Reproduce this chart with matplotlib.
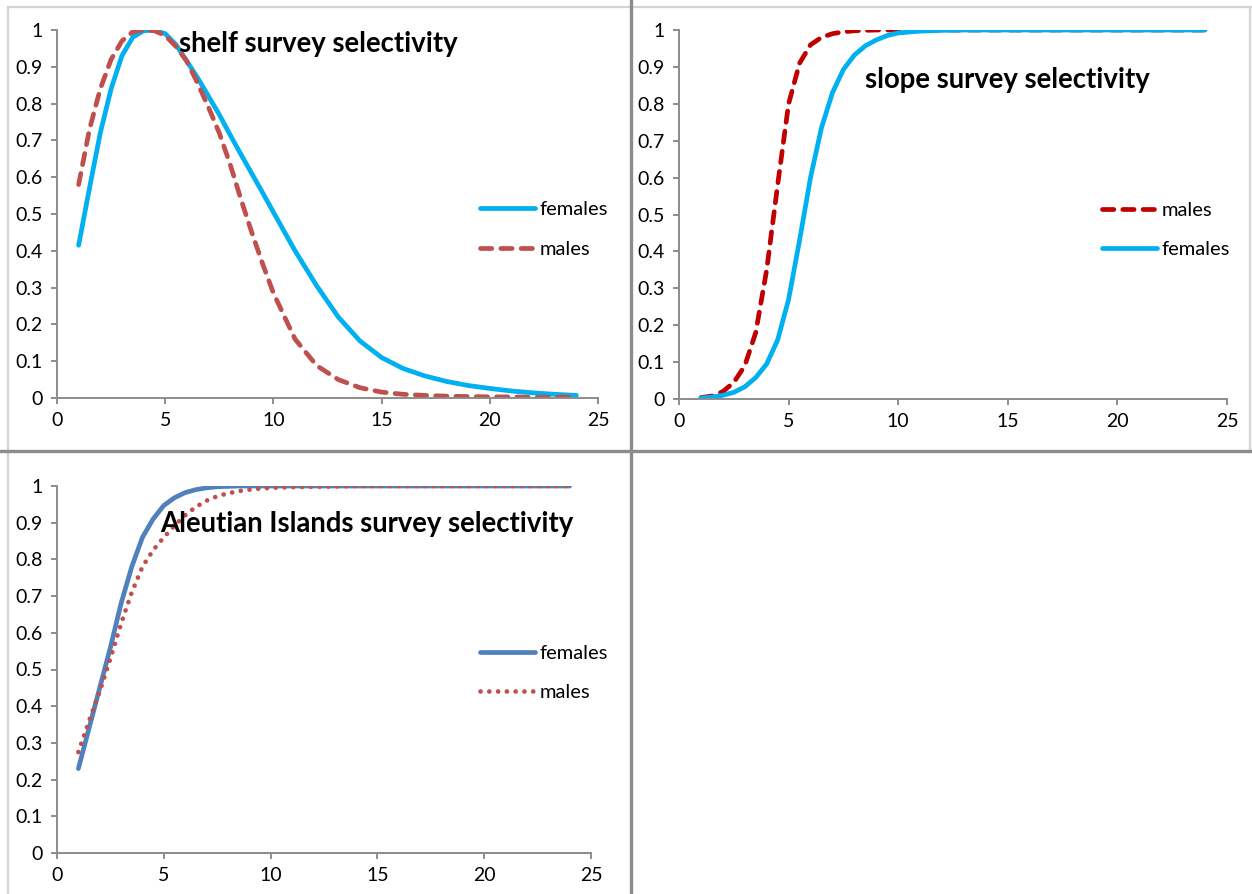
import matplotlib
matplotlib.use("Agg")
import matplotlib.pyplot as plt
from matplotlib.lines import Line2D

plt.rcParams["font.family"] = ["Lato", "DejaVu Sans"]

# ages: half-year steps up to 10, then whole years
ages = [1, 1.5, 2, 2.5, 3, 3.5, 4, 4.5, 5, 5.5, 6, 6.5, 7, 7.5, 8, 8.5, 9, 9.5, 10,
        11, 12, 13, 14, 15, 16, 17, 18, 19, 20, 21, 22, 23, 24]

shelf_females = [0.415, 0.57, 0.72, 0.84, 0.93, 0.98, 0.998, 1.0, 0.99, 0.96, 0.915, 0.87,
                 0.82, 0.77, 0.715, 0.662, 0.61, 0.558, 0.505,
                 0.40, 0.305, 0.22, 0.155, 0.11, 0.08, 0.06, 0.045, 0.034, 0.026, 0.019,
                 0.014, 0.010, 0.007]
shelf_males = [0.58, 0.73, 0.84, 0.92, 0.97, 0.995, 1.0, 0.998, 0.985, 0.955, 0.915, 0.855,
               0.79, 0.72, 0.635, 0.54, 0.45, 0.365, 0.285,
               0.16, 0.088, 0.05, 0.028, 0.016, 0.01, 0.007, 0.005, 0.004, 0.003, 0.003,
               0.002, 0.002, 0.002]

slope_males = [0.004, 0.008, 0.02, 0.045, 0.09, 0.18, 0.35, 0.58, 0.80, 0.91, 0.96, 0.98,
               0.99, 0.995, 0.998, 0.999, 1.0, 1.0, 1.0,
               1.0, 1.0, 1.0, 1.0, 1.0, 1.0, 1.0, 1.0, 1.0, 1.0, 1.0, 1.0, 1.0, 1.0]
slope_females = [0.003, 0.005, 0.01, 0.018, 0.033, 0.058, 0.095, 0.16, 0.27, 0.43, 0.60, 0.735,
                 0.83, 0.893, 0.932, 0.957, 0.973, 0.985, 0.992,
                 0.997, 0.999, 1.0, 1.0, 1.0, 1.0, 1.0, 1.0, 1.0, 1.0, 1.0, 1.0, 1.0, 1.0]

ai_females = [0.23, 0.34, 0.45, 0.56, 0.68, 0.78, 0.86, 0.91, 0.947, 0.968, 0.982, 0.99,
              0.995, 0.998, 0.999, 1.0, 1.0, 1.0, 1.0,
              1.0, 1.0, 1.0, 1.0, 1.0, 1.0, 1.0, 1.0, 1.0, 1.0, 1.0, 1.0, 1.0, 1.0]
ai_males = [0.275, 0.36, 0.44, 0.53, 0.625, 0.71, 0.78, 0.825, 0.86, 0.892, 0.92, 0.943,
            0.96, 0.972, 0.98, 0.986, 0.99, 0.993, 0.995,
            0.997, 0.998, 0.999, 1.0, 1.0, 1.0, 1.0, 1.0, 1.0, 1.0, 1.0, 1.0, 1.0, 1.0]

W, H = 1252, 894
fig = plt.figure(figsize=(W / 100, H / 100), dpi=100)


def px_axes(left, top, right, bottom):
    return fig.add_axes([left / W, 1 - bottom / H, (right - left) / W, (bottom - top) / H])


def style(ax):
    ax.set_xlim(0, 25)
    ax.set_ylim(0, 1)
    ax.set_xticks([0, 5, 10, 15, 20, 25])
    ax.set_yticks([i / 10 for i in range(11)])
    ax.set_yticklabels(["0", "0.1", "0.2", "0.3", "0.4", "0.5", "0.6", "0.7", "0.8", "0.9", "1"])
    for s in ["top", "right"]:
        ax.spines[s].set_visible(False)
    for s in ["left", "bottom"]:
        ax.spines[s].set_color("#8c8c8c")
        ax.spines[s].set_linewidth(1.4)
    ax.tick_params(direction="out", length=4, width=1.4, color="#8c8c8c",
                   labelsize=14, labelcolor="black")
    ax.tick_params(axis="x", pad=6)
    ax.tick_params(axis="y", pad=6)
    ax.patch.set_alpha(0)


def legend(ax, x, y):
    ax.legend(loc="center left", bbox_to_anchor=(x, y), frameon=False, fontsize=14.5,
              handlelength=2.75, handletextpad=0.2, labelspacing=1.1,
              borderpad=0, borderaxespad=0)


LW = 3.4
dash = dict(dashes=(2.4, 1.9), dash_capstyle="round")

# shelf survey
ax1 = px_axes(57, 30, 598, 398)
style(ax1)
ax1.plot(ages, shelf_females, color="#00b0f0", lw=LW, solid_capstyle="round",
         solid_joinstyle="round", label="females")
ax1.plot(ages, shelf_males, color="#c0504d", lw=LW, label="males", **dash)
ax1.text(5.65, 0.962, "shelf survey selectivity", fontsize=19.8, fontweight="bold",
         ha="left", va="center")
legend(ax1, 0.782, 0.458)

# slope survey
ax2 = px_axes(679, 30, 1227, 399)
style(ax2)
ax2.plot(ages, slope_males, color="#c00000", lw=LW, label="males", **dash)
ax2.plot(ages, slope_females, color="#00b0f0", lw=LW, solid_capstyle="round",
         solid_joinstyle="round", label="females")
ax2.text(8.5, 0.865, "slope survey selectivity", fontsize=19.8, fontweight="bold",
         ha="left", va="center")
legend(ax2, 0.772, 0.459)

# Aleutian Islands survey
ax3 = px_axes(57, 486, 591, 853)
style(ax3)
ax3.plot(ages, ai_females, color="#4f81bd", lw=LW, solid_capstyle="round",
         solid_joinstyle="round", label="females")
ax3.plot(ages, ai_males, color="#c0504d", lw=LW, label="males",
         dashes=(0.01, 1.85), dash_capstyle="round")
ax3.text(4.85, 0.896, "Aleutian Islands survey selectivity", fontsize=19.8, fontweight="bold",
         ha="left", va="center")
legend(ax3, 0.792, 0.490)

# panel borders and dividers
def fig_line(x0, y0, x1, y1, color, lw):
    fig.add_artist(Line2D([x0 / W, x1 / W], [1 - y0 / H, 1 - y1 / H],
                          transform=fig.transFigure, color=color, lw=lw))

fig_line(8, 7, W, 7, "#d4d4d4", 1.6)
fig_line(8, 7, 8, H, "#d4d4d4", 1.6)
fig_line(1250, 7, 1250, 451, "#d4d4d4", 1.6)
fig_line(630.5, 0, 630.5, H, "#8c8c8c", 2.4)
fig_line(0, 451, W, 451, "#8c8c8c", 2.4)

fig.savefig("out.png", dpi=100)
